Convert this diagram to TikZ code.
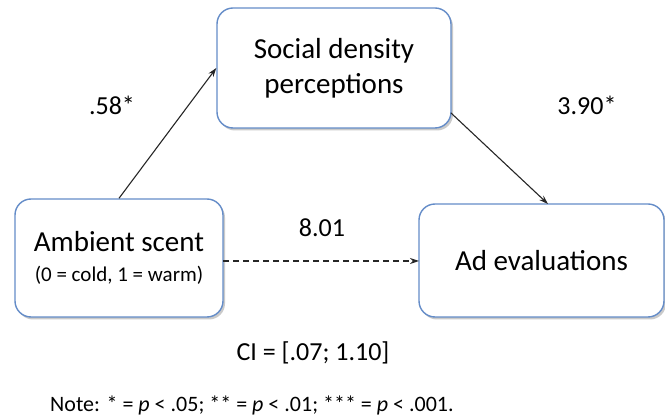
\documentclass[tikz,border=0pt]{standalone}
\usepackage{fontspec}
\setmainfont{Carlito}
\usetikzlibrary{shadows,arrows.meta}
\definecolor{boxblue}{RGB}{100,140,200}
\tikzset{
  x=1pt, y=-1pt,
  varbox/.style={draw=boxblue, line width=1.4pt, fill=white, rounded corners=16pt,
    drop shadow={shadow xshift=2pt, shadow yshift=-2.5pt, opacity=0.35, fill=black!60},
    inner sep=0pt, align=center},
  path/.style={draw=black!85, line width=1.1pt, -{Stealth[length=9pt,width=6pt]}},
  coef/.style={font=\fontsize{26}{30}\selectfont}
}
\begin{document}
\begin{tikzpicture}
\useasboundingbox (0,0) rectangle (665,419);
% variables
\node[varbox, minimum width=208pt, minimum height=118pt, font=\fontsize{29}{30}\selectfont] (amb) at (119,258)
  {Ambient scent\\{\fontsize{21}{24}\selectfont (0 = cold, 1 = warm)}};
\node[varbox, minimum width=234pt, minimum height=120pt, font=\fontsize{29}{35}\selectfont] (soc) at (334,68)
  {Social density\\perceptions};
\node[varbox, minimum width=245pt, minimum height=113pt, font=\fontsize{29}{35}\selectfont] (ad) at (541.5,260.5)
  {Ad evaluations};
% paths
\coordinate (socout) at (451,113);
\coordinate (adin) at (548,204);
\draw[path] (amb.north) -- (soc.west);
\draw[path] (socout) -- (adin);
\coordinate (dstart) at (223,261);
\coordinate (dend) at (419,261);
\draw[path, dashed, dash pattern=on 6pt off 4pt] (dstart) -- (dend);
% coefficients
\node[coef] (a) at (112,105) {.58*};
\node[coef] (b) at (587,105) {3.90*};
\node[coef] (c) at (322,228) {8.01};
\node[coef] (ci) at (313,353) {CI = [.07; 1.10]};
\node[font=\fontsize{22}{26}\selectfont, anchor=base west, inner sep=0pt] (note) at (50,412)
  {Note: * = \textit{p} < .05; ** = \textit{p} < .01; *** = \textit{p} < .001.};
\end{tikzpicture}
\end{document}
